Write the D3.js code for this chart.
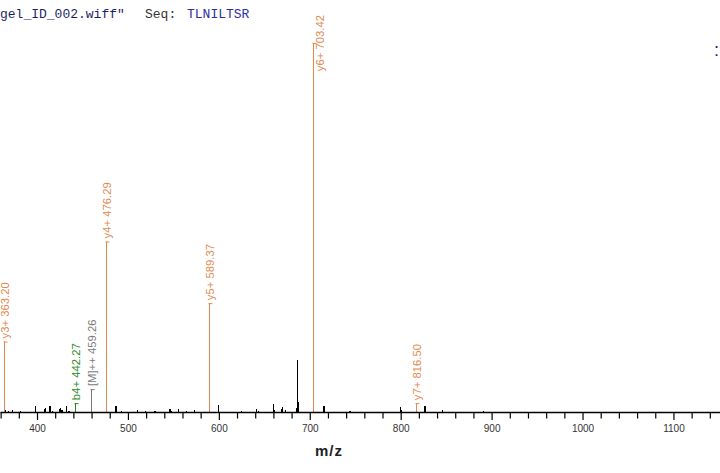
<!DOCTYPE html>
<html><head><meta charset="utf-8">
<script src="https://cdn.jsdelivr.net/npm/d3@7"></script>
<style>html,body{margin:0;padding:0;background:#fff;overflow:hidden}</style>
</head><body>
<svg id="c" width="720" height="473"></svg>
<script>
// ---- data ----
const annMz    = [363.20, 442.27, 459.26, 476.29, 589.37, 703.42, 816.50];
const annInt   = [19.1, 2.4, 6.2, 46.2, 29.5, 100, 2.4];
const annLabel = ["y3+ 363.20", "b4+ 442.27", "[M]++ 459.26", "y4+ 476.29", "y5+ 589.37", "y6+ 703.42", "y7+ 816.50"];
const annType  = ["y", "b", "M", "y", "y", "y", "y"];

const peakMz  = [365.6, 368.4, 373.3, 381.6, 398.6, 408.0, 409.6, 414.3, 416.8, 424.5, 426.1, 427.5, 432.7, 435.2,
                 486.9, 493.1, 510.7, 519.5, 529.8, 546.3, 548.1, 555.4, 564.6, 573.0, 599.8, 625.1, 641.6, 643.4,
                 659.9, 661.0, 668.7, 670.0, 673.3, 685.6, 686.3, 686.9, 687.6, 714.9, 715.6, 744.2, 800.0, 801.1,
                 826.7, 827.5, 846.2, 890.8];
const peakInt = [0.6, 0.4, 0.55, 0.4, 1.6, 0.8, 0.95, 1.75, 0.4, 0.8, 1.1, 0.5, 1.75, 0.4,
                 1.6, 0.4, 0.55, 0.4, 0.4, 0.7, 0.4, 0.8, 0.4, 0.65, 1.9, 0.4, 0.7, 0.4,
                 2.3, 0.55, 0.8, 1.35, 0.55, 1.15, 2.85, 14.2, 2.7, 1.75, 1.75, 0.4, 1.35, 0.55,
                 1.75, 1.1, 0.55, 0.4];

const majorTicks = [400, 500, 600, 700, 800, 900, 1000, 1100];
const minorTicks = [360, 380, 420, 440, 460, 480, 520, 540, 560, 580, 620, 640, 660, 680, 720, 740, 760, 780,
                    820, 840, 860, 880, 920, 940, 960, 980, 1020, 1040, 1060, 1080, 1120, 1140];
const xDomain = [359.3, 1151.2];
const xTitle = "m/z";
const fileText = "gel_ID_002.wiff\"";
const seqLabel = "Seq:";
const seqText = "TLNILTSR";

const colors = {y: "#e3894f", b: "#1f8a1f", M: "#7a7a7a"};

// ---- chart ----
const svg = d3.select("#c");
const x = d3.scaleLinear().domain(xDomain).range([0, 720]);
const y = d3.scaleLinear().domain([0, 100]).range([412, 43]);

// unannotated peaks
svg.append("g").selectAll("line").data(peakMz.map((m, i) => [m, peakInt[i]])).join("line")
  .attr("x1", d => x(d[0])).attr("x2", d => x(d[0]))
  .attr("y1", y(0)).attr("y2", d => y(d[1]))
  .attr("stroke", "#000").attr("stroke-width", 1.2).attr("shape-rendering", "crispEdges");

// annotated peaks
const ann = annMz.map((m, i) => ({m, v: annInt[i], label: annLabel[i], c: colors[annType[i]]}));
const ga = svg.append("g");
ann.forEach(d => {
  const px = Math.round(x(d.m)) + 0.5;
  const top = y(d.v);
  ga.append("line").attr("x1", px).attr("x2", px).attr("y1", y(0)).attr("y2", top)
    .attr("stroke", d.c).attr("stroke-width", 1);
  ga.append("line").attr("x1", px - 1).attr("x2", px + 3).attr("y1", top + 0.5).attr("y2", top + 0.5)
    .attr("stroke", d.c).attr("stroke-width", 1);
  const t = ga.append("text").text(d.label)
    .attr("font-family", "Liberation Sans, Arial, sans-serif").attr("font-size", 11.3)
    .attr("fill", d.c).attr("text-anchor", "start");
  const len = t.node().getComputedTextLength();
  let sy = top - 3, sx = px + 4.5;
  if (sy - len < 14) { sy = 15 + len; sx = px + 10; }
  t.attr("transform", `translate(${sx},${sy}) rotate(-90)`);
});

// axis
const gAx = svg.append("g").attr("transform", "translate(0,412)");
gAx.call(d3.axisBottom(x).tickValues(minorTicks).tickSize(6.5).tickSizeOuter(0).tickFormat(""));
gAx.call(g => g.select(".domain").remove());
const gMaj = svg.append("g").attr("transform", "translate(0,412)");
gMaj.call(d3.axisBottom(x).tickValues(majorTicks).tickSize(8).tickSizeOuter(0).tickPadding(4.5).tickFormat(d3.format("d")));
svg.selectAll(".tick line").attr("stroke", "#000").attr("stroke-width", 1.2);
gMaj.select(".domain").attr("stroke", "#000").attr("stroke-width", 1.5);
gMaj.selectAll(".tick text").attr("font-family", "Liberation Sans, Arial, sans-serif")
  .attr("font-size", 10).attr("fill", "#333");

svg.append("text").text(xTitle).attr("x", 329).attr("y", 456).attr("text-anchor", "middle")
  .attr("font-family", "Liberation Sans, Arial, sans-serif").attr("font-weight", "bold")
  .attr("font-size", 15).attr("letter-spacing", 1).attr("fill", "#222");

// title
const mono = "Liberation Mono, Courier New, monospace";
svg.append("text").text(fileText).attr("x", 0).attr("y", 18).attr("font-family", mono)
  .attr("font-size", 13).attr("fill", "#1e1e66");
svg.append("text").text(seqLabel).attr("x", 145).attr("y", 18).attr("font-family", mono)
  .attr("font-size", 13).attr("fill", "#333");
svg.append("text").text(seqText).attr("x", 187).attr("y", 18).attr("font-family", mono)
  .attr("font-size", 13).attr("fill", "#2d2daa");
svg.append("text").text(":").attr("x", 719).attr("y", 56).attr("text-anchor", "end")
  .attr("font-family", "Liberation Sans, Arial, sans-serif")
  .attr("font-size", 18).attr("fill", "#1e1e66");
</script>
</body></html>
